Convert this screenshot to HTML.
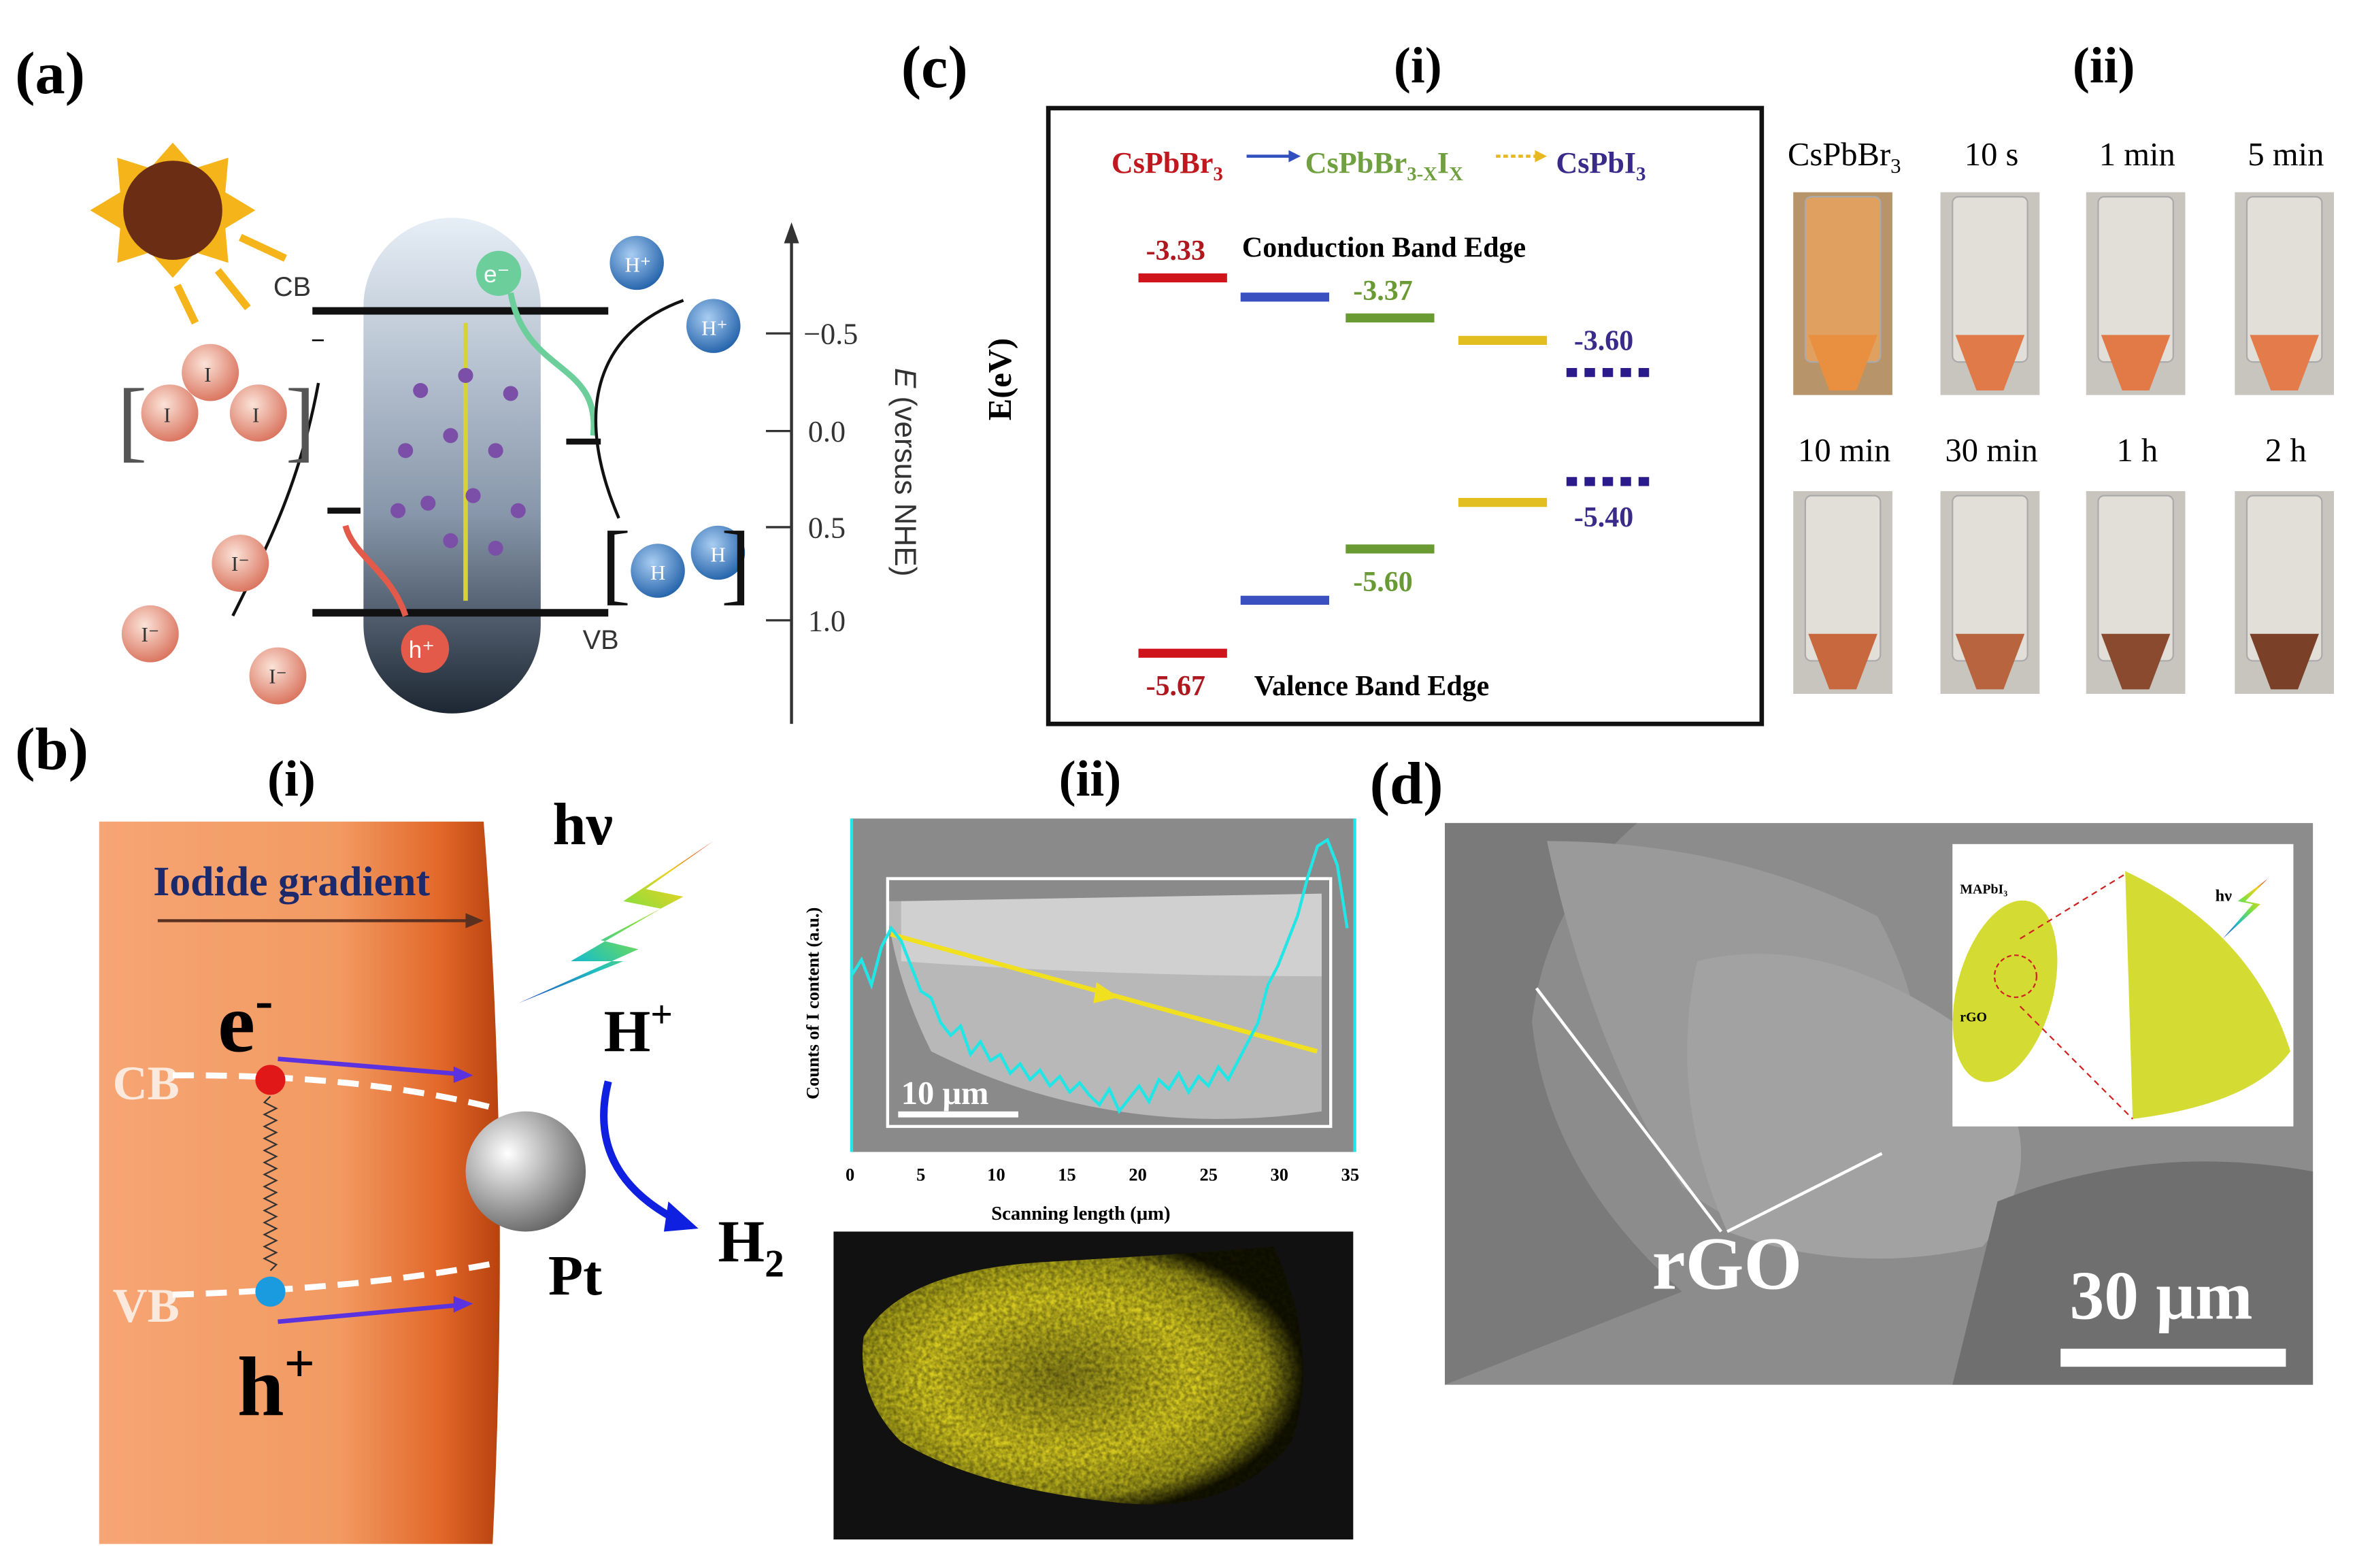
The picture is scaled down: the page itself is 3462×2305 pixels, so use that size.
<!DOCTYPE html>
<html><head><meta charset="utf-8"><style>
html,body{margin:0;padding:0;background:#fff}
svg{display:block}
text{font-family:"Liberation Serif",serif}
.sans{font-family:"Liberation Sans",sans-serif}
</style></head><body>
<svg id="fig" width="3462" height="2305" viewBox="0 0 1568 1044" xmlns="http://www.w3.org/2000/svg">
<defs>
<linearGradient id="cap" x1="0" y1="0" x2="0" y2="1"><stop offset="0" stop-color="#e6eef6"/><stop offset="0.6" stop-color="#8796aa"/><stop offset="1" stop-color="#1d2733"/></linearGradient>
<linearGradient id="orng" x1="0" y1="0" x2="1" y2="0"><stop offset="0" stop-color="#f7a574"/><stop offset="0.6" stop-color="#f29a62"/><stop offset="0.85" stop-color="#e2682a"/><stop offset="1" stop-color="#b8420e"/></linearGradient>
<radialGradient id="ball" cx="0.35" cy="0.35" r="0.7"><stop offset="0" stop-color="#fff"/><stop offset="1" stop-color="#666"/></radialGradient>
<radialGradient id="iball" cx="0.4" cy="0.35" r="0.7"><stop offset="0" stop-color="#fbe3d8"/><stop offset="1" stop-color="#d9705a"/></radialGradient>
<radialGradient id="hball" cx="0.4" cy="0.35" r="0.7"><stop offset="0" stop-color="#a9cdf2"/><stop offset="1" stop-color="#1f5fa8"/></radialGradient>
<linearGradient id="rain" x1="0" y1="1" x2="1" y2="0"><stop offset="0" stop-color="#2040c0"/><stop offset="0.3" stop-color="#20c0c0"/><stop offset="0.55" stop-color="#80e040"/><stop offset="0.8" stop-color="#f0d020"/><stop offset="1" stop-color="#e02020"/></linearGradient>
<radialGradient id="edx" cx="0.45" cy="0.5" r="0.55"><stop offset="0" stop-color="#8a8418"/><stop offset="0.55" stop-color="#d8cc20"/><stop offset="0.85" stop-color="#a09a18"/><stop offset="1" stop-color="#141400"/></radialGradient>
<filter id="noise"><feTurbulence type="fractalNoise" baseFrequency="0.35" numOctaves="2" seed="3"/><feColorMatrix values="0 0 0 0 0  0 0 0 0 0  0 0 0 0 0  0 0 0 -1.2 0.9"/><feComposite operator="in" in2="SourceGraphic"/></filter>
</defs>

<text x="10" y="62" font-size="40" font-weight="bold">(a)</text>
<text x="10" y="512" font-size="40" font-weight="bold">(b)</text>
<text x="600" y="58" font-size="40" font-weight="bold">(c)</text>
<text x="912" y="535" font-size="40" font-weight="bold">(d)</text>
<text x="928" y="55" font-size="34" font-weight="bold">(i)</text>
<text x="1380" y="55" font-size="34" font-weight="bold">(ii)</text>
<text x="178" y="530" font-size="34" font-weight="bold">(i)</text>
<text x="705" y="530" font-size="34" font-weight="bold">(ii)</text>

<g>
 <g>
  <polygon points="115,95 130,112 152,105 150,128 170,140 150,152 152,175 130,168 115,185 100,168 78,175 80,152 60,140 80,128 78,105 100,112" fill="#f4b41a"/>
  <circle cx="115" cy="140" r="33" fill="#6b2e14"/>
  <line x1="160" y1="158" x2="190" y2="172" stroke="#f4b41a" stroke-width="5"/>
  <line x1="145" y1="180" x2="165" y2="205" stroke="#f4b41a" stroke-width="5"/>
  <line x1="118" y1="190" x2="130" y2="215" stroke="#f4b41a" stroke-width="5"/>
 </g>
 <rect x="242" y="145" width="118" height="330" rx="59" fill="url(#cap)"/>
 <line x1="208" y1="207" x2="405" y2="207" stroke="#111" stroke-width="5"/>
 <line x1="208" y1="408" x2="405" y2="408" stroke="#111" stroke-width="5"/>
 <text x="182" y="197" font-size="18" class="sans" fill="#333">CB</text>
 <text x="388" y="432" font-size="18" class="sans" fill="#333">VB</text>
 <line x1="310" y1="215" x2="310" y2="400" stroke="#d6d23a" stroke-width="3"/>
 <g fill="#7b4fa8">
  <circle cx="280" cy="260" r="5"/><circle cx="310" cy="250" r="5"/><circle cx="340" cy="262" r="5"/>
  <circle cx="270" cy="300" r="5"/><circle cx="300" cy="290" r="5"/><circle cx="330" cy="300" r="5"/>
  <circle cx="285" cy="335" r="5"/><circle cx="315" cy="330" r="5"/><circle cx="345" cy="340" r="5"/>
  <circle cx="265" cy="340" r="5"/><circle cx="300" cy="360" r="5"/><circle cx="330" cy="365" r="5"/>
 </g>
 <circle cx="332" cy="182" r="15" fill="#6ccf9b"/><text x="322" y="188" font-size="16" class="sans" fill="#fff">e⁻</text>
 <circle cx="283" cy="432" r="16" fill="#e35a4a"/><text x="272" y="438" font-size="16" class="sans" fill="#fff">h⁺</text>
 <path d="M340,195 C350,250 400,240 395,290" stroke="#6ccf9b" stroke-width="4" fill="none"/>
 <path d="M270,410 C260,380 235,370 230,350" stroke="#e35a4a" stroke-width="4" fill="none"/>
 <line x1="218" y1="340" x2="240" y2="340" stroke="#111" stroke-width="4"/>
 <line x1="377" y1="294" x2="400" y2="294" stroke="#111" stroke-width="4"/>
 <path d="M155,410 C180,360 200,320 212,255" stroke="#111" stroke-width="2" fill="none"/>
 <path d="M455,200 C400,220 380,270 412,345" stroke="#111" stroke-width="2" fill="none"/>
 <text x="78" y="300" font-size="60" fill="#555">[</text><text x="190" y="300" font-size="60" fill="#555">]</text>
 <text x="207" y="232" font-size="16" class="sans">−</text>
 <circle cx="140" cy="248" r="19" fill="url(#iball)"/><circle cx="113" cy="275" r="19" fill="url(#iball)"/><circle cx="172" cy="275" r="19" fill="url(#iball)"/>
 <circle cx="160" cy="375" r="19" fill="url(#iball)"/><circle cx="100" cy="422" r="19" fill="url(#iball)"/><circle cx="185" cy="450" r="19" fill="url(#iball)"/>
 <g class="sans" font-size="14" fill="#333"><text x="136" y="254">I</text><text x="109" y="281">I</text><text x="168" y="281">I</text><text x="154" y="380">I⁻</text><text x="94" y="427">I⁻</text><text x="179" y="455">I⁻</text></g>
 <circle cx="424" cy="175" r="18" fill="url(#hball)"/><circle cx="475" cy="217" r="18" fill="url(#hball)"/>
 <circle cx="438" cy="380" r="18" fill="url(#hball)"/><circle cx="478" cy="368" r="18" fill="url(#hball)"/>
 <g class="sans" font-size="14" fill="#fff"><text x="416" y="181">H⁺</text><text x="467" y="223">H⁺</text><text x="433" y="386">H</text><text x="473" y="374">H</text></g>
 <text x="400" y="395" font-size="60" fill="#111">[</text><text x="480" y="395" font-size="60" fill="#111">]</text>
 <g>
  <line x1="527" y1="152" x2="527" y2="482" stroke="#333" stroke-width="2"/>
  <polygon points="527,148 522,162 532,162" fill="#333"/>
  <g stroke="#333" stroke-width="1.5"><line x1="510" y1="222" x2="527" y2="222"/><line x1="510" y1="287" x2="527" y2="287"/><line x1="510" y1="351" x2="527" y2="351"/><line x1="510" y1="413" x2="527" y2="413"/></g>
  <g class="sans" font-size="20" fill="#333"><text x="535" y="229">−0.5</text><text x="538" y="294">0.0</text><text x="538" y="358">0.5</text><text x="538" y="420">1.0</text></g>
  <text x="0" y="0" class="sans" font-size="20" fill="#333" transform="translate(596,245) rotate(90)"><tspan font-style="italic">E</tspan> (versus NHE)</text>
 </g>
</g>

<g>
 <path d="M66,547 L322,547 Q340,780 328,1028 L66,1028 Z" fill="url(#orng)"/>
 <text x="102" y="596" font-size="28" font-weight="bold" fill="#1c2a6b">Iodide gradient</text>
 <line x1="105" y1="613" x2="315" y2="613" stroke="#5a3020" stroke-width="2"/><polygon points="322,613 310,608 310,618" fill="#5a3020"/>
 <text x="145" y="700" font-size="56" font-weight="bold">e<tspan font-size="36" dy="-22">-</tspan></text>
 <text x="75" y="732" font-size="32" font-weight="bold" fill="#fce9dd">CB</text>
 <text x="75" y="880" font-size="32" font-weight="bold" fill="#fce9dd">VB</text>
 <path d="M115,716 Q250,715 345,742" stroke="#fff" stroke-width="4" stroke-dasharray="14,8" fill="none"/>
 <path d="M115,862 Q250,858 345,838" stroke="#fff" stroke-width="4" stroke-dasharray="14,8" fill="none"/>
 <circle cx="180" cy="719" r="10" fill="#e01818"/><circle cx="180" cy="860" r="10" fill="#1a9be0"/>
 <path d="M180,730 l-4,4 l8,4 l-8,4 l8,4 l-8,4 l8,4 l-8,4 l8,4 l-8,4 l8,4 l-8,4 l8,4 l-8,4 l8,4 l-8,4 l8,4 l-8,4 l8,4 l-8,4 l8,4 l-8,4 l8,4 l-8,4 l8,4 l-8,4 l8,4 l-8,4 l8,4 l-4,4" stroke="#333" stroke-width="1" fill="none"/>
 <line x1="185" y1="705" x2="305" y2="715" stroke="#5a32e0" stroke-width="3"/><polygon points="315,716 302,710 302,721" fill="#5a32e0"/>
 <line x1="185" y1="880" x2="305" y2="869" stroke="#5a32e0" stroke-width="3"/><polygon points="315,868 302,863 302,874" fill="#5a32e0"/>
 <text x="158" y="942" font-size="56" font-weight="bold">h<tspan font-size="36" dy="-22">+</tspan></text>
 <circle cx="350" cy="780" r="40" fill="url(#ball)"/>
 <text x="365" y="862" font-size="38" font-weight="bold">Pt</text>
 <text x="368" y="562" font-size="40" font-weight="bold">hν</text>
 <polygon points="475,560 415,600 440,605 380,640 415,640 345,668 425,632 400,626 455,597 430,592" fill="url(#rain)"/>
 <text x="402" y="700" font-size="40" font-weight="bold">H<tspan font-size="26" dy="-16">+</tspan></text>
 <path d="M405,720 Q390,780 450,812" stroke="#1020e0" stroke-width="5" fill="none"/><polygon points="465,818 445,800 442,820" fill="#1020e0"/>
 <text x="478" y="840" font-size="40" font-weight="bold">H<tspan font-size="26" dy="10">2</tspan></text>
</g>

<g>
 <rect x="567" y="545" width="335" height="222" fill="#8a8a8a"/>
 <path d="M590,600 L880,600 L880,740 Q740,760 620,700 Q595,650 590,600 Z" fill="#b8b8b8"/>
 <path d="M600,600 L880,595 L880,650 Q740,650 600,640 Z" fill="#d0d0d0"/>
 <rect x="591" y="585" width="295" height="165" fill="none" stroke="#fff" stroke-width="2"/>
 <line x1="593" y1="622" x2="877" y2="700" stroke="#f0e020" stroke-width="3"/>
 <polygon points="745,664 730,654 728,668" fill="#f0e020"/>
 <path id="scanLine" fill="none" stroke="#22e6e6" stroke-width="2"/>
 <line x1="567" y1="545" x2="567" y2="767" stroke="#22e6e6" stroke-width="2"/><line x1="902" y1="545" x2="902" y2="767" stroke="#22e6e6" stroke-width="2"/>
 <rect x="598" y="740" width="80" height="4" fill="#fff"/>
 <text x="600" y="735" font-size="22" font-weight="bold" fill="#fff">10 μm</text>
 <text x="0" y="0" font-size="12" font-weight="bold" transform="translate(545,732) rotate(-90)">Counts of I content (a.u.)</text>
 <g id="xticks" font-size="12" font-weight="bold"></g>
 <text x="660" y="812" font-size="13" font-weight="bold">Scanning length (μm)</text>
 <rect x="555" y="820" width="346" height="205" fill="#111"/>
 <path d="M575,890 Q600,845 700,840 Q790,835 848,830 Q880,900 860,960 Q820,1010 740,1000 Q650,990 600,960 Q570,930 575,890 Z" fill="url(#edx)"/>
 <path d="M575,890 Q600,845 700,840 Q790,835 848,830 Q880,900 860,960 Q820,1010 740,1000 Q650,990 600,960 Q570,930 575,890 Z" fill="#000" filter="url(#noise)" opacity="0.6"/>
</g>

<g>
 <rect x="698" y="72" width="475" height="410" fill="#fff" stroke="#111" stroke-width="3"/>
 <text x="0" y="0" font-size="22" font-weight="bold" transform="translate(673,280) rotate(-90)">E(eV)</text>
 <g font-size="20" font-weight="bold">
  <text x="740" y="115" fill="#c0181e">CsPbBr<tspan font-size="13" dy="5">3</tspan></text>
  <line x1="830" y1="104" x2="860" y2="104" stroke="#3050c0" stroke-width="2"/><polygon points="866,104 858,100 858,108" fill="#3050c0"/>
  <text x="869" y="115" fill="#70a040">CsPbBr<tspan font-size="13" dy="5">3-X</tspan><tspan dy="-5">I</tspan><tspan font-size="13" dy="5">X</tspan></text>
  <line x1="996" y1="104" x2="1024" y2="104" stroke="#e8b820" stroke-width="2" stroke-dasharray="3,2"/><polygon points="1030,104 1022,100 1022,108" fill="#e8b820"/>
  <text x="1036" y="115" fill="#3a2a8a">CsPbI<tspan font-size="13" dy="5">3</tspan></text>
 </g>
 <text x="827" y="171" font-size="19" font-weight="bold">Conduction Band Edge</text>
 <text x="835" y="463" font-size="19" font-weight="bold">Valence Band Edge</text>
 <g id="bands"></g>
</g>

<g id="photos"></g>

<g>
 <rect x="962" y="548" width="578" height="374" fill="#8c8c8c"/>
 <path d="M962,548 L1090,548 Q1030,600 1020,680 Q1030,780 1120,860 L962,922 Z" fill="#7a7a7a"/>
 <path d="M1030,560 Q1150,560 1250,610 Q1300,700 1270,820 Q1180,840 1120,790 Q1060,700 1030,560 Z" fill="#9a9a9a"/>
 <path d="M1130,640 Q1210,620 1300,680 Q1380,760 1320,830 Q1230,850 1150,820 Q1110,730 1130,640 Z" fill="#a2a2a2"/>
 <path d="M1330,800 Q1430,760 1540,780 L1540,922 L1300,922 Z" fill="#6f6f6f"/>
 <line x1="1023" y1="658" x2="1146" y2="820" stroke="#fff" stroke-width="2"/>
 <line x1="1253" y1="768" x2="1150" y2="820" stroke="#fff" stroke-width="2"/>
 <text x="1100" y="858" font-size="50" font-weight="bold" fill="#fff">rGO</text>
 <text x="1378" y="878" font-size="46" font-weight="bold" fill="#fff">30 μm</text>
 <rect x="1372" y="898" width="150" height="12" fill="#fff"/>
 <g>
  <rect x="1300" y="562" width="227" height="188" fill="#fff"/>
  <ellipse cx="1335" cy="660" rx="32" ry="62" fill="#d4dc34" transform="rotate(15 1335 660)"/>
  <path d="M1415,580 Q1500,620 1525,700 Q1500,735 1420,745 Z" fill="#d4dc34"/>
  <line x1="1345" y1="625" x2="1415" y2="582" stroke="#d02020" stroke-dasharray="4,3"/>
  <line x1="1345" y1="670" x2="1420" y2="745" stroke="#d02020" stroke-dasharray="4,3"/>
  <circle cx="1342" cy="650" r="14" fill="none" stroke="#d02020" stroke-dasharray="3,2"/>
  <text x="1305" y="595" font-size="9" font-weight="bold">MAPbI₃</text>
  <text x="1305" y="680" font-size="9" font-weight="bold">rGO</text>
  <text x="1475" y="600" font-size="11" font-weight="bold">hν</text>
  <polygon points="1510,585 1490,600 1500,602 1480,625 1505,602 1495,600" fill="url(#rain)"/>
 </g>
</g>

<script>
const scanX = [0,0.7,1.4,2.1,2.8,3.5,4.2,4.9,5.6,6.3,7,7.7,8.4,9.1,9.8,10.5,11.2,11.9,12.6,13.3,14,14.7,15.4,16.1,16.8,17.5,18.2,18.9,19.6,20.3,21,21.7,22.4,23.1,23.8,24.5,25.2,25.9,26.6,27.3,28,28.7,29.4,30.1,30.8,31.5,32.2,32.9,33.6,34.3,35];
const scanCounts = [55,60,52,64,70,66,58,50,48,40,36,39,30,34,28,30,24,27,22,25,20,23,18,21,17,14,19,12,16,20,15,22,19,24,18,23,20,26,22,28,34,40,52,58,66,74,86,96,98,90,70];
const xTickLabels = ["0","5","10","15","20","25","30","35"];
const xTickValues = [0,5,10,15,20,25,30,35];
const materials = ["CsPbBr3","step1","CsPbBr3-xIx","step3","CsPbI3"];
const cbPos = [-3.33,-3.45,-3.58,-3.72,-3.92];
const vbPos = [-5.67,-5.34,-5.02,-4.73,-4.60];
const cbLabels = ["-3.33","","-3.37","","-3.60"];
const vbLabels = ["-5.67","","-5.60","","-5.40"];
const bandColors = ["#d0141c","#3a50c0","#6a9a34","#e2be20","#2a1a8a"];
const labelColors = ["#b01820","#000","#6a9a34","#000","#3a2a8a"];
const photoLabels = ["CsPbBr","10 s","1 min","5 min","10 min","30 min","1 h","2 h"];
const cakeColor = ["#e89040","#e07a48","#e27a48","#e37c4a","#c8683e","#b8643e","#8a4a30","#7a4028"];

const NS="http://www.w3.org/2000/svg";
function mk(tag,attrs,parent){const e=document.createElementNS(NS,tag);for(const k in attrs)e.setAttribute(k,attrs[k]);parent.appendChild(e);return e;}

const sx = v => 567 + v*(897-567)/35;
const sy = v => 765 - v*2.1;
let d="";
scanX.forEach((x,i)=>{d+=(i?"L":"M")+sx(x).toFixed(1)+","+sy(scanCounts[i]).toFixed(1);});
document.getElementById("scanLine").setAttribute("d",d);
const xt=document.getElementById("xticks");
xTickValues.forEach((v,i)=>{
  const t=mk("text",{x:sx(v)-4,y:786},xt);
  
  
  t.textContent=xTickLabels[i];
});

const ey = E => 185 + (-3.33 - E)*106.8;
const bx = [758,826,896,971,1043];
const bands=document.getElementById("bands");
materials.forEach((m,i)=>{
  [[cbPos[i],cbLabels[i],-1],[vbPos[i],vbLabels[i],1]].forEach(([E,lab,side])=>{
    const y=ey(E);
    const l=mk("line",{x1:bx[i],y1:y,x2:bx[i]+59,y2:y,stroke:bandColors[i],"stroke-width":6},bands);
    if(i===4) l.setAttribute("stroke-dasharray","7,5");
    
    
    if(lab){
      let ly = side<0 ? y-12 : y+28;
      if(i===4) ly = side<0 ? y-15 : y+30;
      const t=mk("text",{x:bx[i]+5,y:ly,"font-size":19,"font-weight":"bold",fill:labelColors[i]},bands);
      
      
      t.textContent=lab;
    }
  });
});

const ph=document.getElementById("photos");
const cx=[1228,1326,1423,1522];
photoLabels.forEach((lab,i)=>{
  const c=cx[i%4], row=Math.floor(i/4);
  const ty = row?327:128, ly = row?307:110;
  const t=mk("text",{x:c,y:ly,"font-size":22,"text-anchor":"middle"},ph);
  
  
  t.textContent=lab;
  if(i===0){const s=mk("tspan",{"font-size":14,dy:5},t);s.textContent="3";}
  const g=mk("g",{},ph);
  
  
  mk("rect",{x:c-34,y:ty,width:66,height:135,fill:i===0?"#b8946a":"#c8c5be"},g);
  mk("rect",{x:c-26,y:ty+3,width:50,height:110,rx:4,fill:i===0?"#e0a060":"#e2ded8",stroke:"#aaa","stroke-width":1},g);
  mk("polygon",{points:`${c-24},${ty+95} ${c+22},${ty+95} ${c+8},${ty+132} ${c-10},${ty+132}`,fill:cakeColor[i]},g);
});
</script>
</svg>
</body></html>
